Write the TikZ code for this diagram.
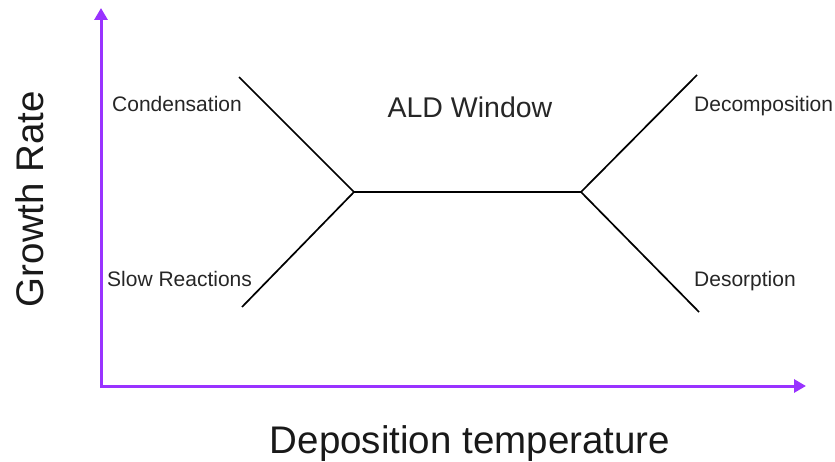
\documentclass[tikz,border=0pt]{standalone}
\usepackage{fontspec}
\setmainfont{Liberation Sans}
\usetikzlibrary{arrows.meta}
\definecolor{axispurple}{RGB}{153,51,255}
\begin{document}
\begin{tikzpicture}[x=1pt,y=-1pt,
  axisline/.style={draw=axispurple, line width=3pt, line cap=rect, -{Triangle[length=12pt,width=13pt]}},
  curveline/.style={draw=black, line width=1.7pt},
  smalllabel/.style={font=\fontsize{21}{25}\selectfont, inner sep=0pt, text=black!85},
  midlabel/.style={font=\fontsize{28.5}{34}\selectfont, inner sep=0pt, text=black!85},
  biglabel/.style={font=\fontsize{38.5}{46}\selectfont, inner sep=0pt, text=black!90}]
\useasboundingbox (0,0) rectangle (835,462);
% axes
\coordinate (origin) at (101,386);
\coordinate (ytip) at (101,8);
\coordinate (xtip) at (806,386);
\draw[axisline] (origin) -- (ytip);
\draw[axisline] (origin) -- (xtip);
% curve
\coordinate (lt) at (239,77);
\coordinate (lb) at (242,307);
\coordinate (jl) at (354,192);
\coordinate (jr) at (581,192);
\coordinate (rt) at (697,75);
\coordinate (rb) at (699,312);
\draw[curveline] (lt) -- (jl) -- (lb);
\draw[curveline] (jl) -- (jr);
\draw[curveline] (rt) -- (jr) -- (rb);
% labels
\node[smalllabel, anchor=base west] (cond) at (112,112) {Condensation};
\node[smalllabel, anchor=base west] (slow) at (107,287) {Slow Reactions};
\node[midlabel, anchor=base] (ald) at (470,118) {ALD Window};
\node[smalllabel, anchor=base west] (decomp) at (694,112) {Decomposition};
\node[smalllabel, anchor=base west] (desorp) at (694,287) {Desorption};
\node[biglabel, anchor=base] (xlab) at (470,453) {Deposition temperature};
\node[biglabel, anchor=base, rotate=90] (ylab) at (43,199) {Growth Rate};
\end{tikzpicture}
\end{document}
